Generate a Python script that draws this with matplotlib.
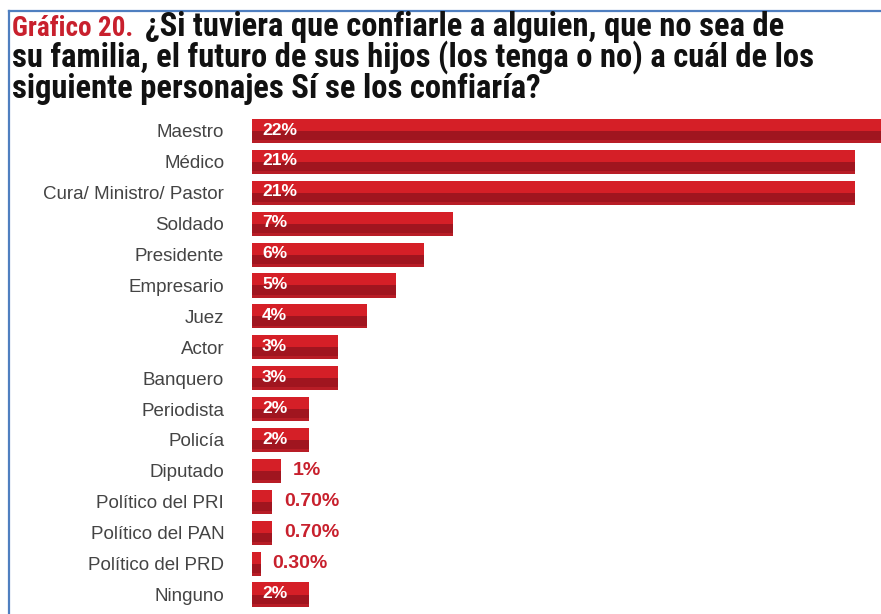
import matplotlib
matplotlib.use("Agg")
import matplotlib.pyplot as plt
from matplotlib import font_manager
from matplotlib.lines import Line2D

categories = ["Maestro", "Médico", "Cura/ Ministro/ Pastor", "Soldado", "Presidente",
              "Empresario", "Juez", "Actor", "Banquero", "Periodista", "Policía",
              "Diputado", "Político del PRI", "Político del PAN", "Político del PRD", "Ninguno"]
values = [22, 21, 21, 7, 6, 5, 4, 3, 3, 2, 2, 1, 0.7, 0.7, 0.3, 2]
value_labels = ["22%", "21%", "21%", "7%", "6%", "5%", "4%", "3%", "3%", "2%", "2%",
                "1%", "0.70%", "0.70%", "0.30%", "2%"]
inside = [True] * 11 + [False] * 4 + [True]

def pick(names, default="DejaVu Sans"):
    avail = {f.name for f in font_manager.fontManager.ttflist}
    for n in names:
        if n in avail:
            return n
    return default

narrow = pick(["Liberation Sans Narrow", "Roboto Condensed", "Liberation Sans"])
sans = pick(["Liberation Sans", "Arial"])

W, H = 881, 614
fig = plt.figure(figsize=(W / 100, H / 100), dpi=100)
fig.patch.set_facecolor("white")

row = 30.9
top_px = 131 - row / 2
height_px = row * len(categories)
ax = fig.add_axes([252 / W, 1 - (top_px + height_px) / H, 1 - 252 / W, height_px / H])
ax.set_xlim(0, 629 / 28.7)
ax.set_ylim(len(categories) - 0.5, -0.5)

ypos = list(range(len(categories)))
bh = 0.78
bright = "#d51f27"
dark = "#a0151f"
strip = "#b81d26"
ax.barh(ypos, values, height=bh, color=bright, edgecolor="none", zorder=2)
# lower bottom strip and darker band
ax.barh([y + bh * 0.44 for y in ypos], values, height=bh * 0.12, color=strip,
        edgecolor="none", zorder=3)
ax.barh([y + bh * 0.19 for y in ypos], values, height=bh * 0.38, color=dark,
        edgecolor="none", zorder=3)

for y, v, lab, ins in zip(ypos, values, value_labels, inside):
    if ins:
        ax.text(0.35, y - 0.03, lab, color="white", fontsize=12.5, fontweight="bold",
                family=sans, va="center", ha="left", zorder=4)
    else:
        ax.text(v + 0.42, y, lab, color="#c8202d", fontsize=14, fontweight="bold",
                family=sans, va="center", ha="left", zorder=4)

ax.set_yticks(ypos)
ax.set_yticklabels(categories, fontsize=13.5, family=sans, color="#444444")
ax.tick_params(axis="y", length=0, pad=20)
ax.set_xticks([])
for s in ax.spines.values():
    s.set_visible(False)

# title
tsize = 23.5
fig.text(12 / W, 1 - 36 / H, "Gráfico 20.", color="#c8202d", fontsize=19.5,
         fontweight="bold", family=narrow, ha="left", va="baseline")
fig.text(145 / W, 1 - 36 / H, "¿Si tuviera que confiarle a alguien, que no sea de",
         color="#111111", fontsize=tsize, fontweight="bold", family=narrow,
         ha="left", va="baseline")
fig.text(12 / W, 1 - 67 / H, "su familia, el futuro de sus hijos (los tenga o no) a cuál de los",
         color="#111111", fontsize=tsize, fontweight="bold", family=narrow,
         ha="left", va="baseline")
fig.text(12 / W, 1 - 98 / H, "siguiente personajes Sí se los confiaría?",
         color="#111111", fontsize=tsize, fontweight="bold", family=narrow,
         ha="left", va="baseline")

# blue frame
border = "#4f7fc0"
fig.add_artist(Line2D([8.5 / W, 8.5 / W], [0, 1 - 11 / H], color=border, lw=1.6,
                      transform=fig.transFigure))
fig.add_artist(Line2D([8.5 / W, 1], [1 - 11 / H, 1 - 11 / H], color=border, lw=1.6,
                      transform=fig.transFigure))

fig.savefig("out.png", dpi=100, facecolor="white")
